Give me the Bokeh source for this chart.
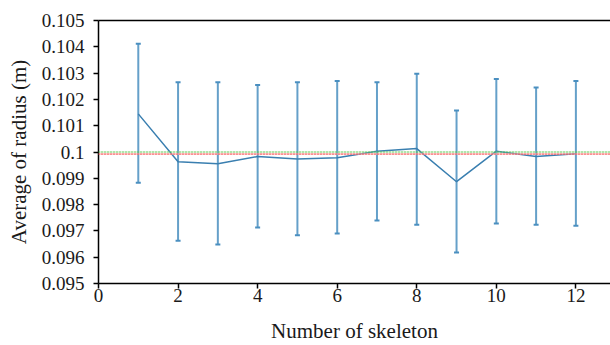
from bokeh.plotting import figure
from bokeh.models import ColumnDataSource, Whisker, TeeHead, Range1d, LinearAxis, FixedTicker, Span
from bokeh.embed import file_html
from bokeh.resources import INLINE

skeleton = [1, 2, 3, 4, 5, 6, 7, 8, 9, 10, 11, 12]
mean_radius = [0.10145, 0.09963, 0.09955, 0.09983, 0.09973, 0.09978,
               0.10003, 0.10013, 0.09887, 0.10003, 0.09983, 0.09993]
upper_err = [0.10412, 0.10265, 0.10265, 0.10255, 0.10265, 0.10270,
             0.10265, 0.10298, 0.10158, 0.10278, 0.10245, 0.10270]
lower_err = [0.09883, 0.09663, 0.09648, 0.09713, 0.09683, 0.09690,
             0.09740, 0.09723, 0.09618, 0.09728, 0.09723, 0.09720]
true_radius = 0.1
estimated_radius = 0.09992
x_ticks = [0, 2, 4, 6, 8, 10, 12]
y_ticks = [0.095, 0.096, 0.097, 0.098, 0.099, 0.1, 0.101, 0.102, 0.103, 0.104, 0.105]
x_title = "Number of skeleton"
y_title = "Average of radius (m)"

FONT = "Liberation Serif"

p = figure(width=610, height=345, output_backend="svg", toolbar_location=None,
           x_range=Range1d(0, 12.87), y_range=Range1d(0.095, 0.105),
           min_border_left=98, min_border_right=0, min_border_top=20, min_border_bottom=62)
p.outline_line_color = None
p.grid.grid_line_color = None
p.background_fill_color = "white"

src = ColumnDataSource(dict(x=skeleton, y=mean_radius, up=upper_err, lo=lower_err))

p.add_layout(Span(location=true_radius, dimension="width", line_color="#99dd88",
                  line_width=1, line_alpha=0.6))
p.add_layout(Span(location=true_radius, dimension="width", line_color="#22bb22",
                  line_dash="1 2", line_width=1.2))
p.add_layout(Span(location=estimated_radius, dimension="width", line_color="#ffaaaa",
                  line_width=2, line_alpha=0.6))
p.add_layout(Span(location=estimated_radius, dimension="width", line_color="#ee3333",
                  line_dash="1 2", line_width=1.2))

w = Whisker(source=src, base="x", upper="up", lower="lo", line_color="#4a8fc0",
            line_width=2, line_alpha=0.85,
            upper_head=TeeHead(size=5, line_color="#4a8fc0", line_width=2),
            lower_head=TeeHead(size=5, line_color="#4a8fc0", line_width=2))
p.add_layout(w)
p.line("x", "y", source=src, line_color="#3a7fb0", line_width=1.5)

for ax in (p.xaxis[0], p.yaxis[0]):
    ax.axis_line_color = "black"
    ax.axis_line_width = 1.5
    ax.major_tick_line_color = "black"
    ax.major_tick_line_width = 1.5
    ax.major_tick_out = 5
    ax.major_tick_in = 0
    ax.minor_tick_line_color = None
    ax.major_label_text_font = FONT
    ax.major_label_text_font_size = "19px"
    ax.major_label_text_color = "#1a1a1a"
    ax.axis_label_text_font = FONT
    ax.axis_label_text_font_size = "21px"
    ax.axis_label_text_font_style = "normal"
    ax.axis_label_text_color = "#1a1a1a"

p.xaxis.ticker = FixedTicker(ticks=x_ticks)
p.yaxis.ticker = FixedTicker(ticks=y_ticks)
p.yaxis.major_label_overrides = {t: ("%g" % t) for t in y_ticks}
p.xaxis.axis_label = x_title
p.yaxis.axis_label = y_title
p.xaxis.major_label_standoff = 0
p.yaxis.major_label_standoff = 9
p.xaxis.axis_label_standoff = 14
p.yaxis.axis_label_standoff = 8

top = LinearAxis(ticker=FixedTicker(ticks=[]), major_label_text_font_size="0px",
                 axis_line_color="black", axis_line_width=1.5, major_tick_line_color=None,
                 minor_tick_line_color=None)
p.add_layout(top, "above")

open("out.html", "w").write(file_html(p, INLINE))
